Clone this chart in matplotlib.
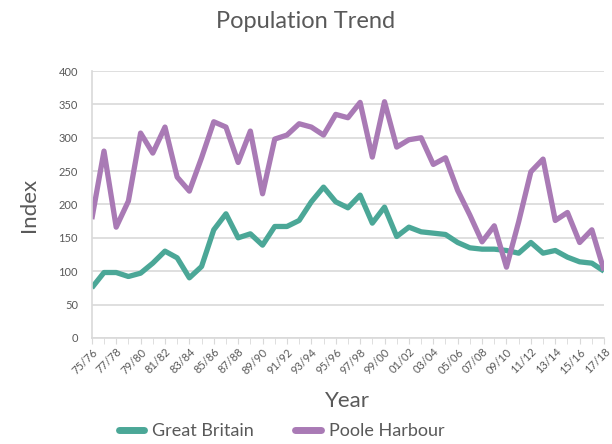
import matplotlib
matplotlib.use("Agg")
import matplotlib.pyplot as plt
import numpy as np

# seasons 75/76 .. 17/18
seasons = ["%02d/%02d" % (y % 100, (y + 1) % 100) for y in range(1975, 2018)]

great_britain = [75, 98, 98, 92, 97, 112, 130, 120, 90, 107,
                 162, 186, 150, 156, 139, 167, 167, 176, 204, 226,
                 204, 195, 214, 172, 196, 152, 166, 159, 157, 155,
                 143, 135, 133, 133, 131, 127, 143, 127, 131, 121,
                 114, 112, 100]

poole_harbour = [178, 280, 166, 205, 307, 277, 316, 241, 220, 270,
                 324, 316, 263, 310, 216, 298, 304, 321, 316, 304,
                 335, 330, 353, 271, 354, 286, 297, 300, 260, 270,
                 221, 184, 144, 168, 106, 174, 249, 268, 176, 188,
                 143, 162, 101]

txt = "#595959"
grid_c = "#D9D9D9"
plt.rcParams['font.family'] = ['Lato', 'DejaVu Sans']

fig = plt.figure(figsize=(6.12, 4.44), dpi=100)
ax = fig.add_axes([0.150, 0.239, 0.837, 0.601])

x = np.arange(len(seasons))
ax.plot(x, great_britain, color="#4BA797", lw=3.8, label="Great Britain", solid_capstyle="butt")
ax.plot(x, poole_harbour, color="#A97AB5", lw=3.8, label="Poole Harbour", solid_capstyle="butt")

ax.set_xlim(0, len(seasons) - 1)
ax.set_ylim(0, 400)
ax.set_yticks(range(0, 401, 50))
ax.yaxis.grid(True, color=grid_c, lw=1.2)
ax.set_axisbelow(True)
ax.tick_params(axis="y", length=0, labelsize=8, labelcolor=txt, pad=10)

ax.set_xticks(x, minor=True)
ax.set_xticks(x[::2])
ax.set_xticklabels(seasons[::2], rotation=45, ha="right", rotation_mode="anchor")
ax.tick_params(axis="x", which="both", length=4, color=grid_c, labelsize=8, labelcolor=txt, pad=2)

for s in ["top", "right"]:
    ax.spines[s].set_visible(False)
for s in ["left", "bottom"]:
    ax.spines[s].set_color(grid_c)
    ax.spines[s].set_linewidth(1.2)

ax.set_ylabel("Index", fontsize=16, color=txt, labelpad=14)
ax.set_xlabel("Year", fontsize=16, color=txt, labelpad=11)
fig.suptitle("Population Trend", fontsize=17, color=txt, y=0.975)

leg = fig.legend(loc="lower center", bbox_to_anchor=(0.46, -0.025), ncol=2, frameon=False,
                 fontsize=13, labelcolor=txt, handlelength=1.4, handletextpad=0.45,
                 columnspacing=2.3)
for h in leg.get_lines():
    h.set_linewidth(5)
    h.set_solid_capstyle("round")

fig.savefig("out.png", dpi=100)
